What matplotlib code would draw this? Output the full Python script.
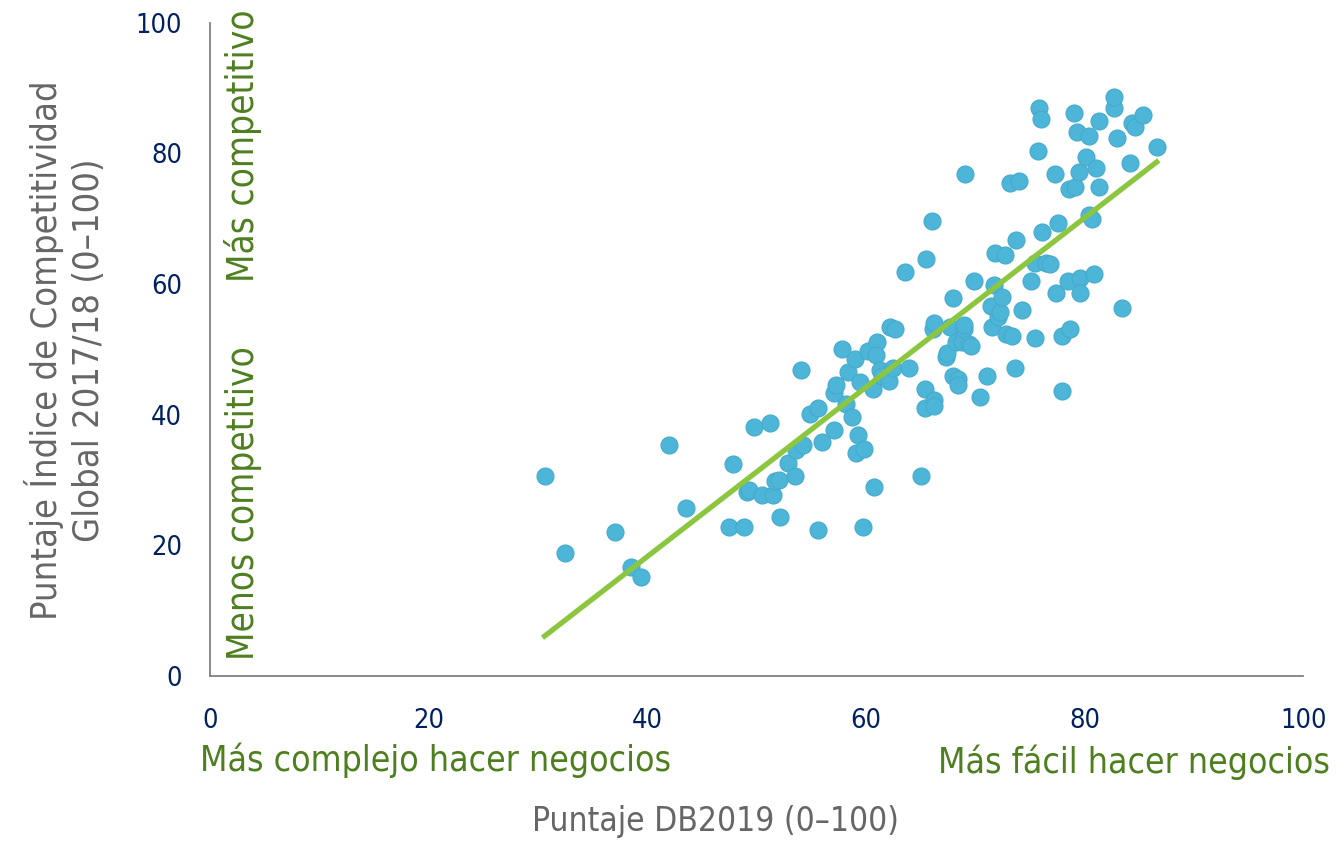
import numpy as np
import matplotlib
matplotlib.use("Agg")
import matplotlib.pyplot as plt

# puntajes (DB2019, Indice de Competitividad Global)
db2019 = [30.6, 32.5, 37.0, 38.5, 39.4, 42.0, 43.5, 47.5, 47.8, 48.8,
          49.1, 49.3, 49.8, 50.5, 51.2, 51.5, 51.7, 52.0, 52.1, 52.9,
          53.5, 53.6, 54.2, 54.1, 54.9, 55.6, 55.6, 56.0, 57.1, 57.1,
          57.3, 57.8, 58.2, 58.4, 58.7, 59.0, 59.1, 59.3, 59.5, 59.7,
          59.8, 60.2, 60.6, 60.7, 61.0, 60.9, 61.3, 61.5, 62.1, 62.2,
          62.7, 62.5, 63.6, 63.9, 65.0, 65.4, 65.5, 65.4, 66.0, 66.1,
          66.2, 66.2, 66.2, 67.3, 67.4, 67.7, 68.0, 68.0, 68.2, 68.4,
          68.4, 68.8, 69.0, 69.0, 69.1, 69.4, 69.6, 69.9, 70.4, 71.1,
          71.4, 71.5, 71.7, 71.8, 72.1, 72.3, 72.4, 72.7, 72.8, 73.2,
          73.4, 73.7, 73.6, 74.0, 74.3, 75.1, 75.5, 75.5, 75.7, 75.8,
          76.0, 76.1, 76.5, 76.8, 77.3, 77.4, 77.6, 77.9, 77.9, 78.5,
          78.6, 78.7, 79.0, 79.1, 79.3, 79.5, 79.6, 79.6, 80.1, 80.4,
          80.4, 80.7, 80.9, 81.0, 81.3, 81.3, 82.7, 82.7, 83.0, 83.4,
          84.2, 84.3, 84.6, 85.3, 86.6]
gci = [30.7, 18.8, 22.0, 16.7, 15.1, 35.3, 25.7, 22.8, 32.4, 22.8,
       28.2, 28.5, 38.1, 27.7, 38.7, 27.7, 29.8, 30.0, 24.3, 32.6,
       30.7, 34.6, 35.3, 46.8, 40.1, 41.1, 22.3, 35.9, 37.6, 43.4,
       44.5, 50.0, 41.6, 46.6, 39.6, 48.6, 34.1, 36.9, 45.0, 22.8,
       34.7, 49.8, 43.9, 28.9, 51.1, 49.2, 46.9, 45.9, 45.1, 53.5,
       53.2, 47.2, 61.9, 47.2, 30.7, 44.0, 63.9, 41.0, 69.7, 53.2,
       54.0, 42.2, 41.3, 48.8, 49.5, 53.4, 57.8, 46.0, 51.1, 45.4,
       44.5, 51.2, 53.1, 53.7, 76.9, 50.9, 50.6, 60.4, 42.7, 46.0,
       56.6, 53.4, 59.8, 64.7, 54.9, 55.7, 58.1, 64.4, 52.3, 75.5,
       52.1, 66.8, 47.1, 75.7, 56.0, 60.4, 51.7, 63.3, 80.4, 86.9,
       85.3, 68.0, 63.3, 63.1, 76.8, 58.7, 69.4, 52.0, 43.7, 60.4,
       74.5, 53.2, 86.2, 74.8, 83.3, 77.1, 61.0, 58.7, 79.4, 82.6,
       70.6, 70.0, 61.6, 77.8, 85.0, 74.9, 86.9, 88.7, 82.3, 56.4,
       78.6, 84.7, 84.1, 85.8, 81.0]

ticks = [0, 20, 40, 60, 80, 100]

plt.rcParams["font.family"] = ["DejaVu Sans"]
plt.rcParams["font.stretch"] = "condensed"

azul = "#002060"
verde = "#4e7f1f"
gris = "#666666"

fig = plt.figure(figsize=(13.38, 8.41), dpi=100)
ax = fig.add_axes([0.157, 0.196, 0.817, 0.777])

ax.scatter(db2019, gci, s=150, color="#4db6d8", edgecolors="#46aacb",
           linewidths=0.8, zorder=3)

# linea de tendencia
m, b = np.polyfit(db2019, gci, 1)
xl = np.array([min(db2019), max(db2019)])
ax.plot(xl, m * xl + b, color="#8cc63e", lw=3.8, zorder=4)

ax.set_xlim(0, 100)
ax.set_ylim(0, 100)
ax.set_xticks(ticks)
ax.set_yticks(ticks)
ax.tick_params(length=0, labelsize=19.5, labelcolor=azul)
ax.tick_params(axis="x", pad=23)
ax.tick_params(axis="y", pad=20)
for s in ["top", "right"]:
    ax.spines[s].set_visible(False)
for s in ["left", "bottom"]:
    ax.spines[s].set_color("#808080")
    ax.spines[s].set_linewidth(1.3)

fig.text(65 / 1338, 1 - 350 / 841,
         "Puntaje Índice de Competitividad\nGlobal 2017/18 (0–100)",
         rotation=90, ha="center", va="center", ma="center",
         fontsize=26, color=gris, linespacing=1.3)
fig.text(715 / 1338, 1 - 822 / 841, "Puntaje DB2019 (0–100)", ha="center",
         va="center", fontsize=24, color=gris)

fig.text(243 / 1338, 1 - 10 / 841, "Más competitivo", rotation=90,
         ha="center", va="top", fontsize=26.5, color=verde)
fig.text(243 / 1338, 1 - 660 / 841, "Menos competitivo", rotation=90,
         ha="center", va="bottom", fontsize=26.5, color=verde)
fig.text(200 / 1338, 1 - 760 / 841, "Más complejo hacer negocios", ha="left",
         va="center", fontsize=25.5, color=verde)
fig.text(1330 / 1338, 1 - 762 / 841, "Más fácil hacer negocios", ha="right",
         va="center", fontsize=25.5, color=verde)

fig.savefig("out.png", dpi=100)
